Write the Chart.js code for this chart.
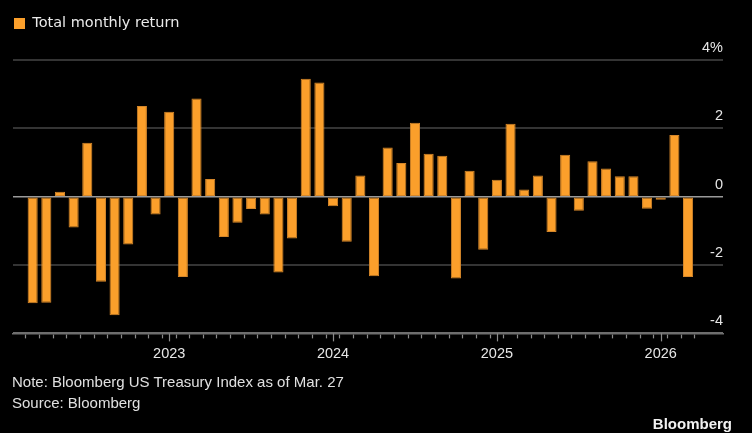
<!DOCTYPE html>
<html>
<head>
<meta charset="utf-8">
<script src="https://cdn.jsdelivr.net/npm/chart.js@4.4.1/dist/chart.umd.min.js"></script>
<style>
  html, body { margin: 0; padding: 0; background: #000; }
  #wrap { position: relative; width: 752px; height: 433px; background: #000; overflow: hidden; }
  #c { position: absolute; left: 0; top: 0; }
  .note { position: absolute; font-family: "Liberation Sans", Arial, sans-serif; font-size: 15px; line-height: 20px; color: #e0e0e0; white-space: nowrap; }
  .brand { position: absolute; right: 20px; top: 414px; font-family: "Liberation Sans", Arial, sans-serif; font-weight: bold; font-size: 15px; line-height: 20px; color: #f2f2f2; }
</style>
</head>
<body>
<div id="wrap">
  <canvas id="c" width="752" height="433"></canvas>
  <div class="note" style="left:12px; top:372px;">Note: Bloomberg US Treasury Index as of Mar. 27</div>
  <div class="note" style="left:12px; top:393px;">Source: Bloomberg</div>
  <div class="brand">Bloomberg</div>
</div>
<script>
const months = [
  '2022-03','2022-04','2022-05','2022-06','2022-07','2022-08','2022-09','2022-10','2022-11','2022-12',
  '2023-01','2023-02','2023-03','2023-04','2023-05','2023-06','2023-07','2023-08','2023-09','2023-10','2023-11','2023-12',
  '2024-01','2024-02','2024-03','2024-04','2024-05','2024-06','2024-07','2024-08','2024-09','2024-10','2024-11','2024-12',
  '2025-01','2025-02','2025-03','2025-04','2025-05','2025-06','2025-07','2025-08','2025-09','2025-10','2025-11','2025-12',
  '2026-01','2026-02','2026-03'
];
const totalMonthlyReturn = [
  -3.12, -3.10, 0.15, -0.90, 1.58, -2.49, -3.47, -1.40, 2.66, -0.52,
  2.49, -2.35, 2.88, 0.52, -1.18, -0.76, -0.36, -0.52, -2.22, -1.22, 3.46, 3.35,
  -0.28, -1.32, 0.62, -2.33, 1.44, 0.99, 2.17, 1.26, 1.20, -2.39, 0.76, -1.55,
  0.50, 2.14, 0.21, 0.62, -1.03, 1.23, -0.41, 1.04, 0.83, 0.60, 0.60, -0.35,
  -0.09, 1.81, -2.35
];
const yTicks = [-4, -2, 0, 2, 4];
const yTickLabels = ['-4', '-2', '0', '2', '4%'];
const seriesName = 'Total monthly return';

const isYearStart = (i) => months[i] && months[i].endsWith('-01');

const yearTickPlugin = {
  id: 'yearTicks',
  afterDraw(chart) {
    const xs = chart.scales.x;
    const ctx = chart.ctx;
    ctx.save();
    ctx.strokeStyle = '#8a8a8a';
    ctx.lineWidth = 1.2;
    months.forEach((m, i) => {
      if (!isYearStart(i)) return;
      const px = Math.round(xs.getPixelForValue(i)) + 0.5;
      ctx.beginPath();
      ctx.moveTo(px, xs.top);
      ctx.lineTo(px, xs.top + 8);
      ctx.stroke();
    });
    ctx.restore();
  }
};

new Chart(document.getElementById('c'), {
  type: 'bar',
  data: {
    datasets: [{
      label: seriesName,
      data: totalMonthlyReturn.map((v, i) => ({ x: i, y: v })),
      backgroundColor: '#fb9f2b',
      borderColor: '#d4862a',
      borderWidth: 1,
      borderSkipped: false,
      barPercentage: 0.74,
      categoryPercentage: 1.0,
      xAxisID: 'x',
      yAxisID: 'y'
    }]
  },
  options: {
    responsive: false,
    animation: false,
    layout: { padding: { left: 13, right: 29, top: 15.3, bottom: 63.6 } },
    plugins: {
      legend: {
        display: true,
        position: 'top',
        align: 'start',
        labels: {
          boxWidth: 11,
          boxHeight: 11,
          padding: 1,
          color: '#eaeaea',
          font: { family: '"DejaVu Sans", Verdana, sans-serif', size: 14.5 },
          generateLabels: (chart) => [{
            text: seriesName,
            fillStyle: '#fb9f2b',
            strokeStyle: '#fb9f2b',
            lineWidth: 0,
            fontColor: '#eaeaea',
            datasetIndex: 0
          }]
        }
      },
      tooltip: { enabled: false }
    },
    scales: {
      x: {
        type: 'linear',
        position: 'bottom',
        min: -0.91,
        max: 50.03,
        afterBuildTicks: (scale) => { scale.ticks = months.map((m, i) => ({ value: i })); },
        ticks: {
          autoSkip: false,
          maxRotation: 0,
          minRotation: 0,
          padding: 5,
          color: '#e6e6e6',
          font: { family: '"Liberation Sans", Arial, sans-serif', size: 14.5, lineHeight: 1.45 },
          callback: (value) => isYearStart(value) ? months[value].slice(0, 4) : ''
        },
        grid: {
          drawOnChartArea: false,
          drawTicks: true,
          tickLength: 5,
          tickColor: '#8a8a8a',
          tickWidth: 1.2
        },
        border: { display: true, color: '#6e6e6e', width: 1.5 }
      },
      top: {
        type: 'linear',
        position: 'top',
        display: true,
        ticks: { display: false },
        grid: { display: false },
        border: { display: false },
        afterFit: (scale) => { scale.height = 19.4; }
      },
      y: {
        type: 'linear',
        position: 'right',
        min: -4,
        max: 4,
        afterBuildTicks: (scale) => { scale.ticks = yTicks.map(v => ({ value: v })); },
        ticks: {
          mirror: true,
          padding: 0,
          labelOffset: -12,
          color: '#e6e6e6',
          font: { family: '"Liberation Sans", Arial, sans-serif', size: 14.5 },
          callback: (value) => yTickLabels[yTicks.indexOf(value)]
        },
        grid: {
          drawTicks: false,
          color: (ctx) => ctx.tick.value === 0 ? '#9a9a9a' : (ctx.tick.value === -4 ? '#6e6e6e' : '#343434'),
          lineWidth: (ctx) => ctx.tick.value === 0 ? 1.5 : 2
        },
        border: { display: false }
      }
    }
  },
  plugins: [yearTickPlugin]
});
</script>
</body>
</html>
